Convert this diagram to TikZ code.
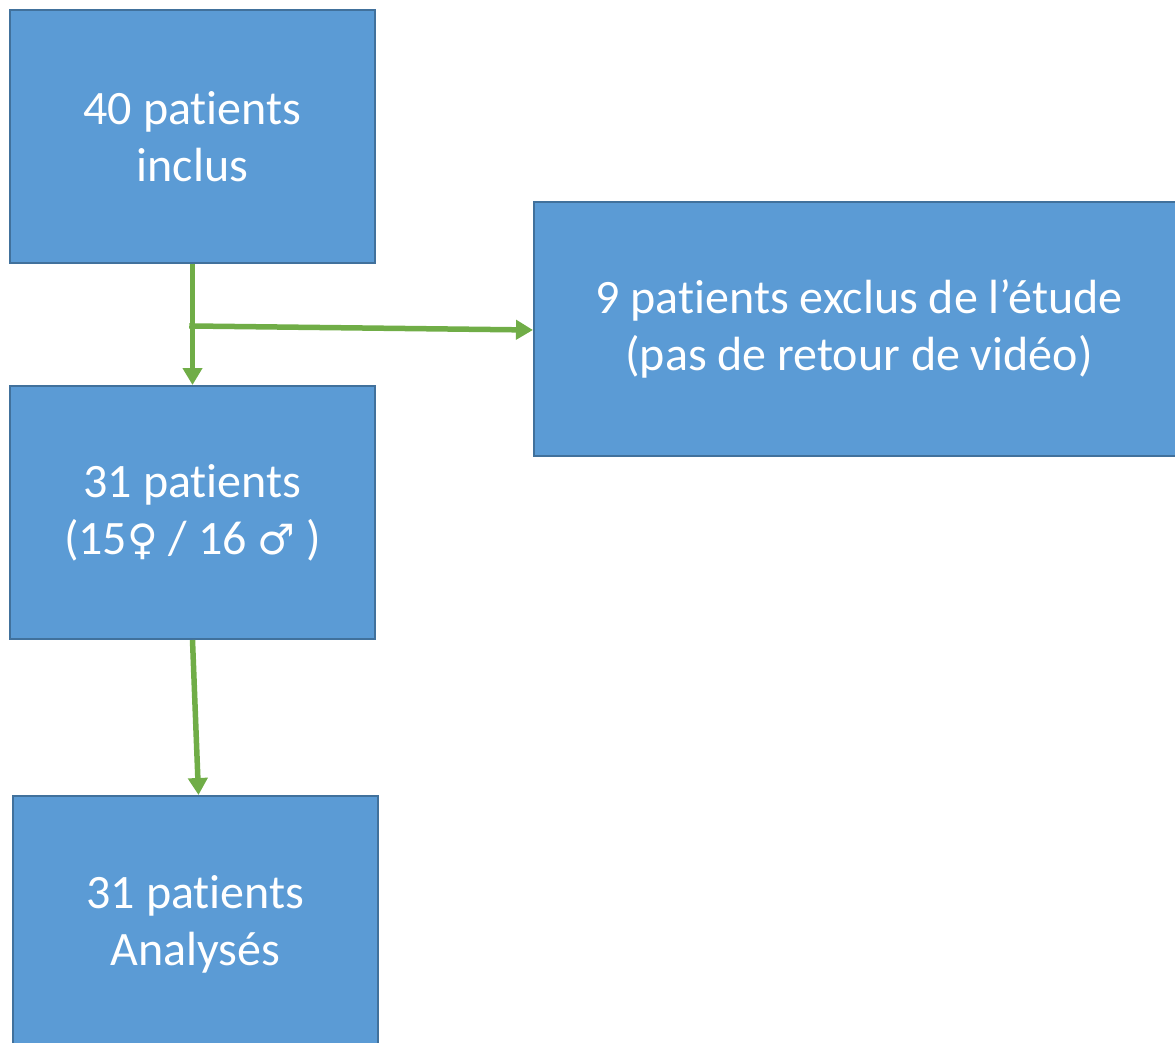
\documentclass[tikz,border=0pt]{standalone}
\usepackage{fontspec}
\setmainfont[Ligatures=NoCommon]{Carlito}
\newfontfamily\symfont{DejaVu Sans}
\usetikzlibrary{arrows.meta}
\definecolor{boxfill}{HTML}{5B9BD5}
\definecolor{boxline}{HTML}{41719C}
\definecolor{arrowgreen}{HTML}{70AD47}
\begin{document}
\begin{tikzpicture}[x=1pt,y=-1pt,
  box/.style={draw=boxline,line width=2pt,fill=boxfill,text=white,align=center,
    inner sep=0pt,font=\fontsize{48}{57}\selectfont},
  flow/.style={draw=arrowgreen,line width=5.5pt,-{Triangle[width=19pt,length=17pt]}}]
\useasboundingbox (0,0) rectangle (1175,1043);
\begin{scope}
\clip (0,0) rectangle (1175,1043);
\node[box,minimum width=365pt,minimum height=253pt] (b1) at (192.5,136.5) {40 patients\\inclus};
\node[box,minimum width=650pt,minimum height=254pt] (b2) at (859,329) {9 patients exclus de l’étude\\(pas de retour de vidéo)};
\node[box,minimum width=365pt,minimum height=253pt] (b3) at (192.5,512.5) {31 patients\\(15{\symfont\fontsize{42}{57}\selectfont ♀} / 16 {\symfont\fontsize{42}{57}\selectfont ♂} )};
\node[box,minimum width=365pt,minimum height=256pt] (b4) at (195.5,924) {31 patients\\Analysés};
\coordinate (br) at (192,326);
\draw[flow] (b1.south) -- (b3.north);
\draw[flow,shorten <=-2.75pt] (br) -- (b2.west |- 0,330);
\draw[flow] (b3.south) -- ([xshift=3pt]b4.north);
\end{scope}
\end{tikzpicture}
\end{document}
